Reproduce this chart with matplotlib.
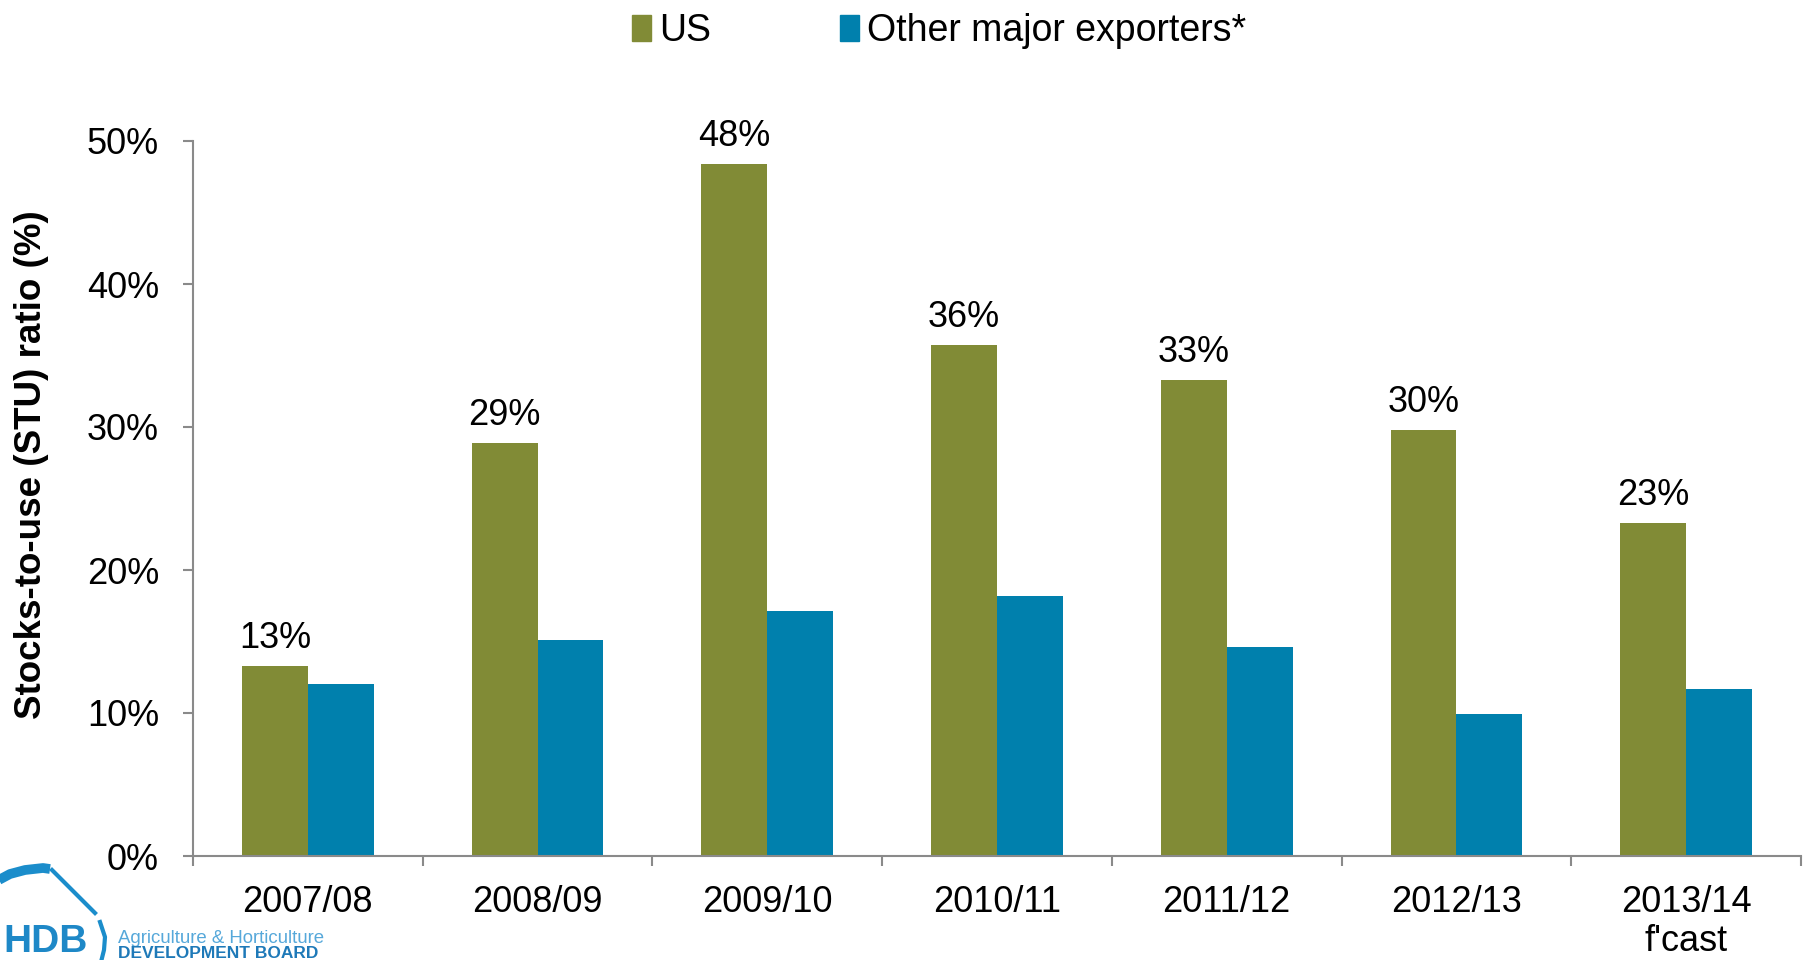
import numpy as np
import matplotlib
matplotlib.use("Agg")
import matplotlib.pyplot as plt
from matplotlib.patches import Patch

plt.rcParams['font.family'] = ['Liberation Sans', 'DejaVu Sans']

categories = ["2007/08", "2008/09", "2009/10", "2010/11", "2011/12", "2012/13", "2013/14\nf'cast"]
us_values = [13.3, 28.9, 48.4, 35.7, 33.3, 29.8, 23.3]
other_values = [12.0, 15.1, 17.1, 18.2, 14.6, 9.9, 11.7]
series_names = ["US", "Other major exporters*"]
yticks = [0, 10, 20, 30, 40, 50]

US_COLOR = "#818B36"
OTHER_COLOR = "#0080AD"
AXIS_COLOR = "#8A8A8A"

W, H = 1810, 960
fig = plt.figure(figsize=(W / 100, H / 100), dpi=100)

# logo overlay axes (pixel coords, y downward)
lax = fig.add_axes([0, 0, 1, 1], zorder=0)
lax.set_xlim(0, W)
lax.set_ylim(H, 0)
lax.axis('off')
logo_blue = "#1B8DCB"
lax.plot([-5, 10, 25, 43, 50], [882, 874, 870, 868, 869], color=logo_blue, lw=7, solid_capstyle='butt')
lax.plot([52, 95], [870, 913], color=logo_blue, lw=3)
lax.plot([100, 105, 104, 101], [922, 937, 950, 962], color=logo_blue, lw=3)
lax.text(88, 952, "HDB", ha='right', va='baseline', fontsize=28, fontweight='bold', color="#1E88C7")
lax.text(118, 943, "Agriculture & Horticulture", ha='left', va='baseline', fontsize=13.4, color="#56A8DA")
lax.text(118, 958, "DEVELOPMENT BOARD", ha='left', va='baseline', fontsize=12.5, fontweight='bold',
         color="#1E79B8")

ax = fig.add_axes([193 / W, 1 - 856 / H, (1801 - 193) / W, (856 - 141) / H], zorder=1)
ax.patch.set_alpha(0)

x = np.arange(len(categories))
bw = 0.287
ax.bar(x - bw / 2, us_values, width=bw, color=US_COLOR, edgecolor='none', label=series_names[0])
ax.bar(x + bw / 2, other_values, width=bw, color=OTHER_COLOR, edgecolor='none', label=series_names[1])

for xi, v in zip(x, us_values):
    ax.annotate(f"{v:.0f}%", xy=(xi - bw / 2, v), xytext=(0, 13), textcoords='offset points',
                ha='center', va='baseline', fontsize=26, color='black')

ax.set_xlim(-0.5, len(categories) - 0.5)
ax.set_ylim(0, 50)
ax.set_yticks(yticks)
ax.set_yticklabels([f"{t}%" for t in yticks], fontsize=26)
ax.set_xticks(x)
ax.set_xticklabels(categories, fontsize=26, linespacing=1.15)
ax.set_xticks(np.arange(-0.5, len(categories), 1), minor=True)
ax.tick_params(axis='x', which='major', length=0, pad=21)
ax.tick_params(axis='x', which='minor', length=7.5, width=1.5, color=AXIS_COLOR, direction='out')
ax.tick_params(axis='y', which='major', length=7.5, width=1.5, color=AXIS_COLOR, direction='out', pad=17)
for s in ['top', 'right']:
    ax.spines[s].set_visible(False)
for s in ['left', 'bottom']:
    ax.spines[s].set_color(AXIS_COLOR)
    ax.spines[s].set_linewidth(1.5)

fig.text(32 / W, 1 - 464.5 / H, "Stocks-to-use (STU) ratio (%)", rotation=90, ha='center', va='center',
         fontsize=26.5, fontweight='bold')

handles = [Patch(color=US_COLOR), Patch(color=OTHER_COLOR)]
fig.legend(handles, series_names, loc='center', bbox_to_anchor=(939 / W, 1 - 31 / H), ncol=2,
           frameon=False, fontsize=27, handlelength=0.5, handleheight=0.72, handletextpad=0.21,
           columnspacing=3.44, borderaxespad=0, borderpad=0)

fig.savefig("out.png", dpi=100)
